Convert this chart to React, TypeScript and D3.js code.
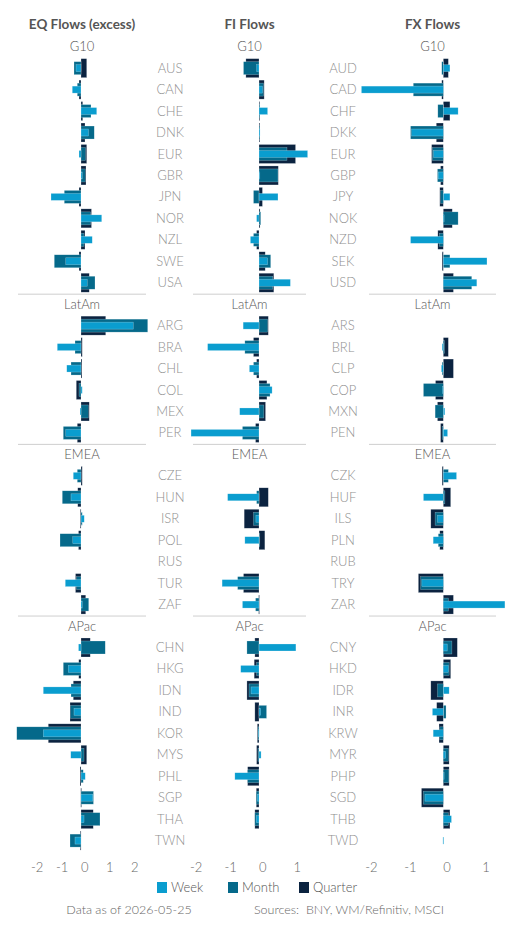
import * as d3 from "d3";

// row codes per region (EQ / FI rows, FX rows)
const eqG10 = ["AUS", "CAN", "CHE", "DNK", "EUR", "GBR", "JPN", "NOR", "NZL", "SWE", "USA"];
const eqLatAm = ["ARG", "BRA", "CHL", "COL", "MEX", "PER"];
const eqEmea = ["CZE", "HUN", "ISR", "POL", "RUS", "TUR", "ZAF"];
const eqApac = ["CHN", "HKG", "IDN", "IND", "KOR", "MYS", "PHL", "SGP", "THA", "TWN"];

const fxG10 = ["AUD", "CAD", "CHF", "DKK", "EUR", "GBP", "JPY", "NOK", "NZD", "SEK", "USD"];
const fxLatAm = ["ARS", "BRL", "CLP", "COP", "MXN", "PEN"];
const fxEmea = ["CZK", "HUF", "ILS", "PLN", "RUB", "TRY", "ZAR"];
const fxApac = ["CNY", "HKD", "IDR", "INR", "KRW", "MYR", "PHP", "SGD", "THB", "TWD"];

const regions = ["G10", "LatAm", "EMEA", "APac"];

// values, rows in order G10, LatAm, EMEA, APac
const eqWeek = [
  -0.2, -0.35, 0.63, 0.3, -0.08, 0.05, -1.2, 0.83, 0.45, -0.61, 0.25,
  2.09, -0.95, -0.57, 0.05, -0.04, -0.61,
  -0.31, -0.4, 0.13, -0.33, null, -0.63, 0.05,
  -0.1, -0.51, -1.51, -0.28, -1.51, -0.41, 0.17, 0.47, 0.12, -0.24,
];
const eqMonth = [
  -0.28, -0.15, 0.4, 0.53, 0.18, 0.17, -0.67, 0.38, 0.12, -1.07, 0.56,
  2.67, -0.24, -0.4, -0.08, 0.29, -0.71,
  -0.15, -0.75, 0.05, -0.84, null, -0.18, 0.31,
  0.97, -0.71, -0.4, -0.42, -2.57, 0.12, 0.09, 0.5, 0.76, -0.44,
];
const eqQuarter = [
  0.23, -0.08, 0.07, 0.16, 0.23, 0.2, -0.08, 0.42, 0.16, -0.08, 0.33,
  0.99, 0.05, 0.04, -0.19, 0.33, -0.15,
  0.05, -0.13, -0.03, -0.1, null, -0.22, 0.19,
  0.37, -0.09, -0.31, -0.44, -1.31, 0.23, -0.04, -0.01, 0.49, -0.03,
];

const fiWeek = [
  -0.07, 0.1, 0.25, 0.03, 1.41, 0, 0.55, -0.07, -0.25, 0.25, 0.91,
  -0.46, -1.49, -0.28, 0.38, -0.56, -1.97,
  null, -0.91, -0.09, -0.41, null, -1.07, -0.48,
  1.07, -0.53, -0.23, 0.05, -0.02, 0.06, -0.7, -0.05, -0.08, null,
];
const fiMonth = [
  -0.45, 0.13, 0.02, 0.01, 0.81, 0.55, -0.16, 0.05, -0.16, 0.34, 0.4,
  0.25, -0.41, -0.16, 0.32, 0.14, -0.48,
  null, -0.07, -0.16, 0.02, null, -0.62, -0.1,
  -0.35, -0.07, -0.29, 0.22, -0.03, -0.03, -0.33, -0.08, -0.12, null,
];
const fiQuarter = [
  -0.38, 0.15, 0.02, 0.01, 1.06, 0.56, 0.1, 0.03, -0.07, 0.18, 0.43,
  0.27, -0.16, -0.07, 0.23, 0.19, -0.1,
  null, 0.27, -0.43, 0.17, null, -0.45, -0.01,
  -0.12, -0.14, -0.35, -0.12, -0.05, -0.07, -0.33, -0.08, -0.12, null,
];

const fxWeek = [
  0.17, -2.1, 0.38, -0.81, -0.25, -0.13, 0.17, 0, -0.84, 1.12, 0.86,
  null, -0.03, -0.05, -0.02, 0.04, 0.11,
  0.34, -0.51, -0.15, -0.26, null, -0.55, 1.58,
  0.1, 0.13, 0.15, -0.28, -0.26, 0.06, 0, -0.47, 0.21, -0.01,
];
const fxMonth = [
  -0.04, -0.77, -0.14, -0.84, -0.28, -0.15, -0.07, 0.38, -0.1, 0.17, 0.73,
  null, 0.03, -0.03, -0.51, -0.21, -0.03,
  0.13, 0.04, -0.21, -0.13, null, -0.58, 0.13,
  0.22, 0.15, -0.15, 0.07, -0.09, 0.13, 0.14, -0.51, 0.13, null,
];
const fxQuarter = [
  0.13, -0.04, 0.17, -0.18, -0.3, -0.07, -0.09, 0.23, -0.14, -0.03, 0.26,
  null, 0.13, 0.26, -0.2, -0.15, -0.07,
  -0.03, 0.19, -0.32, -0.09, null, -0.64, 0.26,
  0.36, 0.19, -0.32, -0.17, -0.11, 0.15, 0.15, -0.56, 0.17, null,
];

const eqTicks = [-2, -1, 0, 1, 2];
const fiTicks = [-2, -1, 0, 1];
const fxTicks = [-2, -1, 0, 1];

const seriesNames = ["Week", "Month", "Quarter"];
const colors = { Week: "#0a9dcf", Month: "#05698a", Quarter: "#0b2340" };
const barHeights = { Quarter: 19, Month: 13, Week: 7 };

const W = 515;
const H = 927;
const font = "Lato, 'Open Sans', sans-serif";

// vertical slots: region header then its rows
const eqGroups = [eqG10, eqLatAm, eqEmea, eqApac];
const fxGroups = [fxG10, fxLatAm, fxEmea, fxApac];
const slots: string[] = [];
eqGroups.forEach((rows, gi) => {
  slots.push("hdr-" + regions[gi]);
  rows.forEach((r) => slots.push(r));
});
const y = d3.scalePoint<string>().domain(slots).range([46.7, 840.6]);
const eqRows = eqGroups.flat();
const fxRows = fxGroups.flat();

const panels = [
  {
    title: "EQ Flows (excess)",
    x: d3.scaleLinear().domain([-2, 2]).range([31, 131]),
    left: 18,
    right: 146,
    ticks: eqTicks,
    week: eqWeek,
    month: eqMonth,
    quarter: eqQuarter,
  },
  {
    title: "FI Flows",
    x: d3.scaleLinear().domain([-2, 2]).range([190, 328]),
    left: 193,
    right: 306,
    ticks: fiTicks,
    week: fiWeek,
    month: fiMonth,
    quarter: fiQuarter,
  },
  {
    title: "FX Flows",
    x: d3.scaleLinear().domain([-2, 2]).range([365.3, 521.3]),
    left: 369,
    right: 496,
    ticks: fxTicks,
    week: fxWeek,
    month: fxMonth,
    quarter: fxQuarter,
  },
];

function Panel({ p }: { p: (typeof panels)[number] }) {
  const cx = (p.left + p.right) / 2;
  const series = [
    { name: "Quarter", values: p.quarter },
    { name: "Month", values: p.month },
    { name: "Week", values: p.week },
  ];
  return (
    <g>
      <text x={cx} y={28.5} textAnchor="middle" fontSize={13.5} fontWeight={700} fill="#555">
        {p.title}
      </text>
      {regions.map((r, i) => (
        <g key={r}>
          {i > 0 && (
            <line
              x1={p.left}
              x2={p.right}
              y1={(y("hdr-" + r) as number) - 10}
              y2={(y("hdr-" + r) as number) - 10}
              stroke="#cfcfcf"
              strokeWidth={1}
            />
          )}
          <text
            x={cx}
            y={y("hdr-" + r)}
            dy="0.35em"
            textAnchor="middle"
            fontSize={13}
            fontWeight={300}
            fill="#555"
          >
            {r}
          </text>
        </g>
      ))}
      {series.map((s) => (
        <g key={s.name}>
          {eqRows.map((row, i) => {
            const v = s.values[i];
            if (v == null) return null;
            const h = barHeights[s.name as keyof typeof barHeights];
            const x0 = p.x(0);
            const x1 = p.x(v);
            return (
              <rect
                key={row}
                x={Math.min(x0, x1)}
                y={(y(row) as number) - h / 2}
                width={Math.max(Math.abs(x1 - x0), 0.8)}
                height={h}
                fill={colors[s.name as keyof typeof colors]}
                stroke="#ffffff"
                strokeOpacity={0.45}
                strokeWidth={0.5}
              />
            );
          })}
        </g>
      ))}
      {p.ticks.map((t) => (
        <text key={t} x={p.x(t)} y={871.5} fontSize={13} fontWeight={300} fill="#666">
          {t < 0 ? "-" + Math.abs(t) : t}
        </text>
      ))}
    </g>
  );
}

export default function App() {
  return (
    <svg
      width={W}
      height={H}
      style={{ position: "absolute", left: 0, top: 0, display: "block", background: "#fff" }}
      fontFamily={font}
    >
      {panels.map((p) => (
        <Panel key={p.title} p={p} />
      ))}
      {eqRows.map((r) => (
        <text key={"l" + r} x={170} y={y(r)} dy="0.35em" textAnchor="middle" fontSize={13} fontWeight={300} fill="#8f8f8f">
          {r}
        </text>
      ))}
      {fxRows.map((r, i) => (
        <text key={"f" + r} x={343} y={y(eqRows[i])} dy="0.35em" textAnchor="middle" fontSize={13} fontWeight={300} fill="#8f8f8f">
          {r}
        </text>
      ))}
      {seriesNames.map((s, i) => (
        <g key={s} transform={`translate(${157 + i * 71},882)`}>
          <rect width={10} height={11} fill={colors[s as keyof typeof colors]} />
          <text x={14} y={9.8} fontSize={13} fontWeight={300} fill="#555">
            {s}
          </text>
        </g>
      ))}
      <text x={129} y={913.5} textAnchor="middle" fontSize={12.5} fontWeight={300} fill="#666">
        Data as of 2026-05-25
      </text>
      <text
        x={349}
        y={913.5}
        textAnchor="middle"
        fontSize={12.5}
        fontWeight={300}
        fill="#666"
        style={{ whiteSpace: "pre" }}
      >
        {"Sources:  BNY, WM/Refinitiv, MSCI"}
      </text>
    </svg>
  );
}
